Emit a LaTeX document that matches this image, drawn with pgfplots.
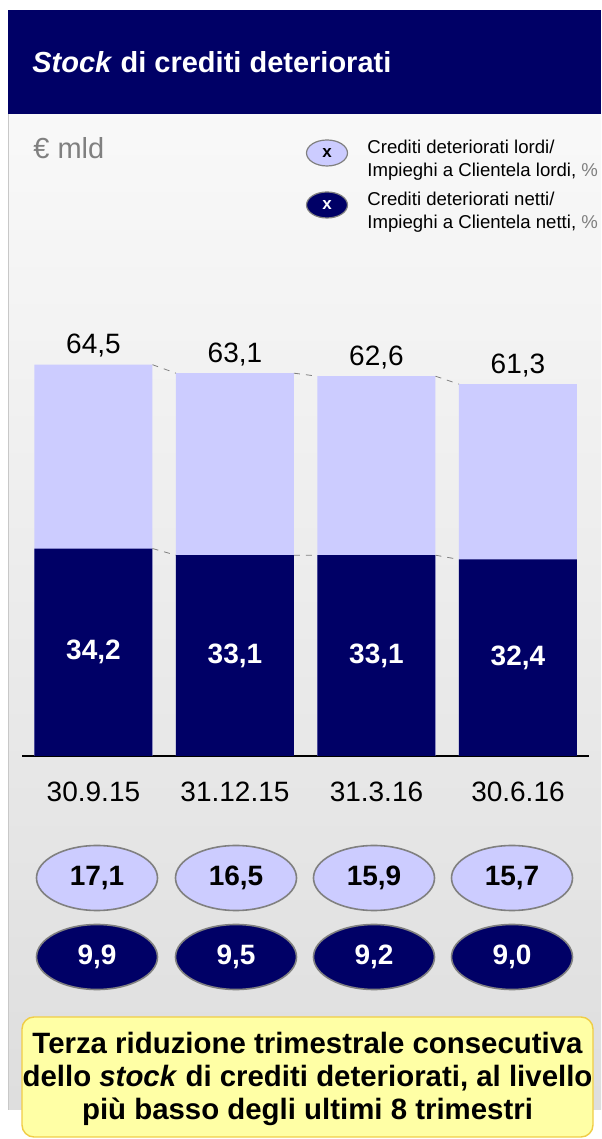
\documentclass[border=0pt]{standalone}
\usepackage{fontspec}
\setmainfont{Liberation Sans}
\usepackage{pgfplots}
\pgfplotsset{compat=1.18}
\usetikzlibrary{shapes.geometric}
\definecolor{navy}{RGB}{0,0,102}
\definecolor{lav}{RGB}{204,204,255}
\definecolor{boxyellow}{RGB}{255,255,165}
\definecolor{boxedge}{RGB}{240,205,70}
\definecolor{panelborder}{RGB}{200,200,200}

\begin{document}
\begin{tikzpicture}[x=0.5pt,y=0.5pt]
\useasboundingbox (0,0) rectangle (601,1139);
\fill[white] (0,0) rectangle (601,1139);
% gray panel and header
\shade[top color=gray!5, bottom color=gray!26] (8,29) rectangle (601,1026);
\draw[panelborder] (8,29) -- (8,1026);
\fill[navy] (8,1025) rectangle (601,1129);
\node[anchor=base west, text=white, inner sep=0,
      font=\fontsize{14.5}{16}\selectfont\bfseries] at (32,1066)
      {\textit{Stock} di crediti deteriorati};
\node[anchor=base west, text=gray, inner sep=0,
      font=\fontsize{14.5}{16}\selectfont] at (33,980) {€ mld};

% legend
\node[ellipse, fill=lav, draw=gray, line width=0.6pt, minimum width=20.5pt,
      minimum height=13pt, inner sep=0, font=\fontsize{8.5}{9}\selectfont\bfseries]
      at (327,986) {x};
\node[ellipse, fill=navy, draw=gray, line width=0.6pt, minimum width=20.5pt,
      minimum height=13pt, inner sep=0, text=white,
      font=\fontsize{8.5}{9}\selectfont\bfseries] at (327,934) {x};
\node[anchor=west, align=left, inner sep=0, font=\fontsize{9.3}{11.5}\selectfont]
      at (367,979) {Crediti deteriorati lordi/\\Impieghi a Clientela lordi, \textcolor{gray}{\%}};
\node[anchor=west, align=left, inner sep=0, font=\fontsize{9.3}{11.5}\selectfont]
      at (367,927) {Crediti deteriorati netti/\\Impieghi a Clientela netti, \textcolor{gray}{\%}};

\begin{axis}[
    at={(11pt,191.5pt)}, anchor=south west,
    scale only axis, width=283.5pt, height=227.5pt,
    xmin=-0.505, xmax=3.502, ymin=0, ymax=75,
    hide y axis,
    axis x line*=bottom,
    x axis line style={black, line width=0.8pt},
    xtick={0,1,2,3},
    xticklabels={30.9.15,31.12.15,31.3.16,30.6.16},
    major tick length=0pt,
    xticklabel style={anchor=base, yshift=-23pt, font=\fontsize{14}{16}\selectfont},
    ytick=\empty,
    clip=false,
    /pgf/number format/assume math mode=true,
    /pgf/number format/use comma,
    /pgf/number format/fixed,
    /pgf/number format/fixed zerofill,
    /pgf/number format/precision=1,
]
% gross stock
\addplot[ybar, bar width=0.834, bar shift=0pt, fill=lav, draw=none,
    nodes near coords,
    nodes near coords style={anchor=base, yshift=5.5pt, text=black,
        font=\fontsize{14}{16}\selectfont}]
    coordinates {(0,64.5) (1,63.1) (2,62.6) (3,61.3)};
% net stock
\addplot[ybar, bar width=0.834, bar shift=0pt, fill=navy, draw=none,
    nodes near coords,
    visualization depends on={rawy \as \rawy},
    nodes near coords style={anchor=center, text=white,
        shift={(axis direction cs:0,-\rawy/2)},
        font=\fontsize{14}{16}\selectfont\bfseries}]
    coordinates {(0,34.2) (1,33.1) (2,33.1) (3,32.4)};
% dashed connectors
\addplot[gray, dashed, line width=0.4pt, mark=none, unbounded coords=jump]
    coordinates {(0.417,64.5) (0.583,63.1) (1,nan) (1.417,63.1) (1.583,62.6)
                 (2,nan) (2.417,62.6) (2.583,61.3)};
\addplot[gray, dashed, line width=0.4pt, mark=none, unbounded coords=jump]
    coordinates {(0.417,34.2) (0.583,33.1) (1,nan) (1.417,33.1) (1.583,33.1)
                 (2,nan) (2.417,33.1) (2.583,32.4)};
\end{axis}

% ratio ellipses
\tikzset{rat/.style={ellipse, draw=gray, line width=0.8pt, minimum width=60.5pt,
    minimum height=32.5pt, inner sep=0, font=\fontsize{14}{16}\selectfont\bfseries}}
\node[rat, fill=lav] at (97,261) {17,1};
\node[rat, fill=lav] at (236,261) {16,5};
\node[rat, fill=lav] at (374,261) {15,9};
\node[rat, fill=lav] at (512,261) {15,7};
\node[rat, fill=navy, text=white] at (97,182) {9,9};
\node[rat, fill=navy, text=white] at (236,182) {9,5};
\node[rat, fill=navy, text=white] at (374,182) {9,2};
\node[rat, fill=navy, text=white] at (512,182) {9,0};

% note box
\draw[boxedge, fill=boxyellow, rounded corners=6pt, line width=0.7pt]
    (22,2) rectangle (593,122);
\node[align=center, inner sep=0, font=\fontsize{14.7}{16.5}\selectfont\bfseries]
    at (307.5,60) {Terza riduzione trimestrale consecutiva\\
    dello \textit{stock} di crediti deteriorati, al livello\\
    più basso degli ultimi 8 trimestri};
\end{tikzpicture}
\end{document}
